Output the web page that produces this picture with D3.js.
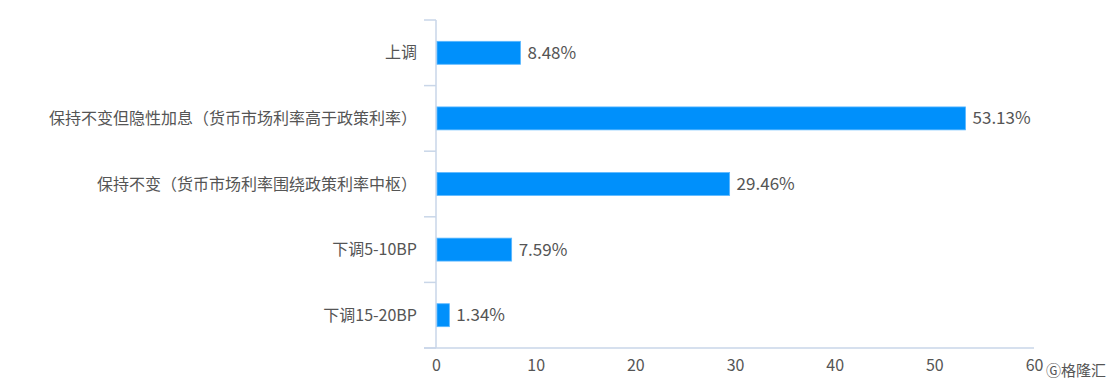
<!DOCTYPE html>
<html>
<head>
<meta charset="utf-8">
<script src="https://cdn.jsdelivr.net/npm/d3@7/dist/d3.min.js"></script>
<style>
  body { margin: 0; background: #fff; }
  text { font-family: "Noto Sans CJK SC", "Noto Sans", sans-serif; fill: #555; }
</style>
</head>
<body>
<svg id="chart" width="1106" height="391"></svg>
<script>
// data
const categories = ["上调", "保持不变但隐性加息（货币市场利率高于政策利率）", "保持不变（货币市场利率围绕政策利率中枢）", "下调5-10BP", "下调15-20BP"];
const values = [8.48, 53.13, 29.46, 7.59, 1.34];
const xTicks = [0, 10, 20, 30, 40, 50, 60];

const svg = d3.select("#chart");
const margin = {left: 436, right: 72, top: 20, bottom: 43};
const W = 1106, H = 391;

const x = d3.scaleLinear().domain([0, 60]).range([margin.left, W - margin.right]);
const y = d3.scaleBand().domain(categories).range([margin.top, H - margin.bottom]).paddingInner(0.65).paddingOuter(0.325);
const yb = d3.scaleBand().domain(categories).range([margin.top, H - margin.bottom]);

const axisColor = "#c9d6e8";

// y axis line + boundary ticks
svg.append("line")
  .attr("x1", x(0)).attr("x2", x(0))
  .attr("y1", margin.top).attr("y2", H - margin.bottom)
  .attr("stroke", axisColor).attr("stroke-width", 1.5);

const bounds = categories.map(c => yb(c)).concat([H - margin.bottom]);
svg.selectAll(".ytick").data(bounds).enter().append("line")
  .attr("x1", x(0) - 12).attr("x2", x(0))
  .attr("y1", d => d).attr("y2", d => d)
  .attr("stroke", axisColor).attr("stroke-width", 1.5);

// x axis
const xAxis = svg.append("g")
  .attr("transform", "translate(0," + (H - margin.bottom) + ")")
  .call(d3.axisBottom(x).tickValues(xTicks).tickSize(0).tickPadding(12));
xAxis.select(".domain").remove();
xAxis.selectAll("text").style("font-size", "16px").attr("fill", "#555");
svg.append("line")
  .attr("x1", x(0) - 12).attr("x2", x(60))
  .attr("y1", H - margin.bottom).attr("y2", H - margin.bottom)
  .attr("stroke", axisColor).attr("stroke-width", 1.5);

// bars
svg.selectAll(".bar").data(values).enter().append("rect")
  .attr("x", x(0) + 1)
  .attr("y", (d, i) => y(categories[i]))
  .attr("width", d => x(d) - x(0) - 1)
  .attr("height", y.bandwidth())
  .attr("fill", "#0090fb")
  .attr("stroke", "#5cb8ff").attr("stroke-width", 0.8);

// value labels
svg.selectAll(".val").data(values).enter().append("text")
  .attr("x", d => x(d) + 7)
  .attr("y", (d, i) => y(categories[i]) + y.bandwidth() / 2)
  .attr("dy", "0.35em")
  .style("font-size", "17px")
  .attr("fill", "#444")
  .text(d => d.toFixed(2) + "%");

// category labels
svg.selectAll(".cat").data(categories).enter().append("text")
  .attr("x", x(0) - 19)
  .attr("y", d => y(d) + y.bandwidth() / 2)
  .attr("dy", "0.35em")
  .attr("text-anchor", "end")
  .style("font-size", "16px")
  .text(d => d);

// watermark
svg.append("text")
  .attr("x", 1046).attr("y", 376)
  .style("font-size", "15px")
  .attr("fill", "#c8c8c8")
  .text("Ⓖ格隆汇");
</script>
</body>
</html>
